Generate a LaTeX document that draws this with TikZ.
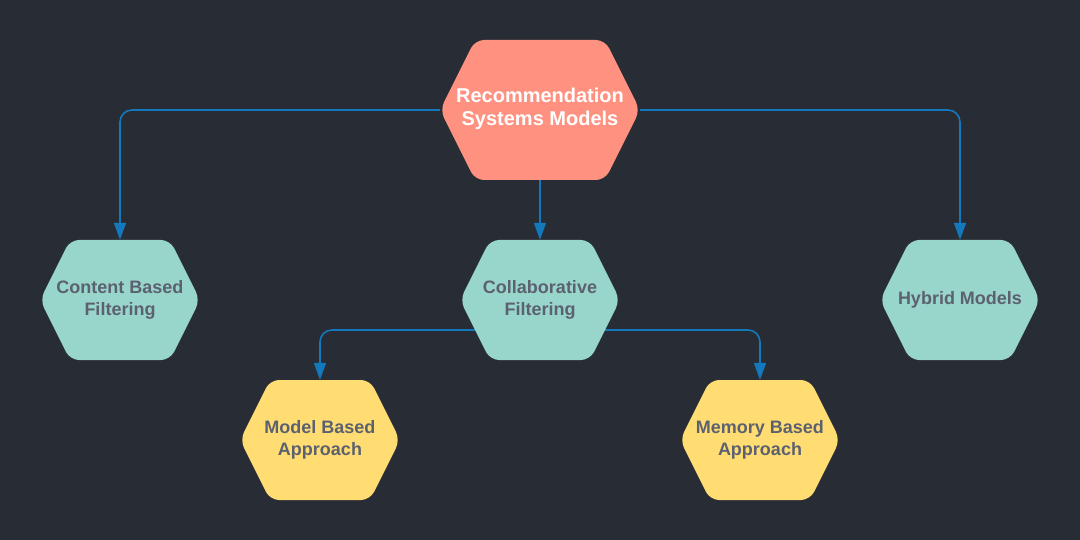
\documentclass[tikz,border=0pt]{standalone}
\usepackage{fontspec}
\setmainfont{Liberation Sans}
\usetikzlibrary{arrows.meta,calc}
\pgfdeclarelayer{back}
\pgfdeclarelayer{bg}
\pgfsetlayers{back,bg,main}
\definecolor{bgc}{HTML}{282C34}
\definecolor{salmon}{HTML}{FF9180}
\definecolor{teal}{HTML}{98D5CB}
\definecolor{yel}{HTML}{FFDD72}
\definecolor{link}{HTML}{1478BC}
\definecolor{txt}{HTML}{5C6170}
\newcommand\hexat[7]{% name, cx, cy, W, H, T, color
  \fill[#7, rounded corners=9pt] ({#2-#6},{#3-#5}) -- ({#2+#6},{#3-#5}) -- ({#2+#4},#3) -- ({#2+#6},{#3+#5}) -- ({#2-#6},{#3+#5}) -- ({#2-#4},#3) -- cycle;
  \node[hexbox, minimum width={2*#4}, minimum height={2*#5}] (#1) at (#2,#3) {};
}
\tikzset{
  hexbox/.style={rectangle, inner sep=0pt, draw=none},
  lbl/.style={font=\bfseries\fontsize{18}{22}\selectfont, text=txt, align=center},
  toplbl/.style={font=\bfseries\fontsize{20}{23}\selectfont, text=white, align=center},
  conn/.style={draw=link, line width=1.6pt, rounded corners=12pt, -{Triangle[length=17pt,width=12pt]}}
}
\begin{document}
\begin{tikzpicture}[x=1pt,y=-1pt]
\begin{pgfonlayer}{back}
\fill[bgc] (0,0) rectangle (1080,540);
\end{pgfonlayer}
\useasboundingbox (0,0) rectangle (1080,540);
\hexat{root}{540}{110}{100}{70}{65}{salmon}
\node[toplbl] at (540,109) {Recommendation\\Systems Models};
\hexat{content}{120}{300}{80}{60}{50}{teal}
\node[lbl] at (120,300) {Content Based\\Filtering};
\hexat{collab}{540}{300}{80}{60}{50}{teal}
\node[lbl] at (540,300) {Collaborative\\Filtering};
\hexat{hybrid}{960}{300}{80}{60}{50}{teal}
\node[lbl] at (960,300) {Hybrid Models};
\hexat{model}{320}{440}{80}{60}{50}{yel}
\node[lbl] at (320,440) {Model Based\\Approach};
\hexat{memory}{760}{440}{80}{60}{50}{yel}
\node[lbl] at (760,440) {Memory Based\\Approach};
\begin{pgfonlayer}{bg}
\draw[conn] (root.west) -| (content.north);
\draw[conn] (root.east) -| (hybrid.north);
\draw[conn] (root.south) -- (collab.north);
\coordinate (cl) at ($(collab.center)+(0,30)$);
\draw[conn] (cl) -| (model.north);
\draw[conn] (cl) -| (memory.north);
\end{pgfonlayer}
\end{tikzpicture}
\end{document}
